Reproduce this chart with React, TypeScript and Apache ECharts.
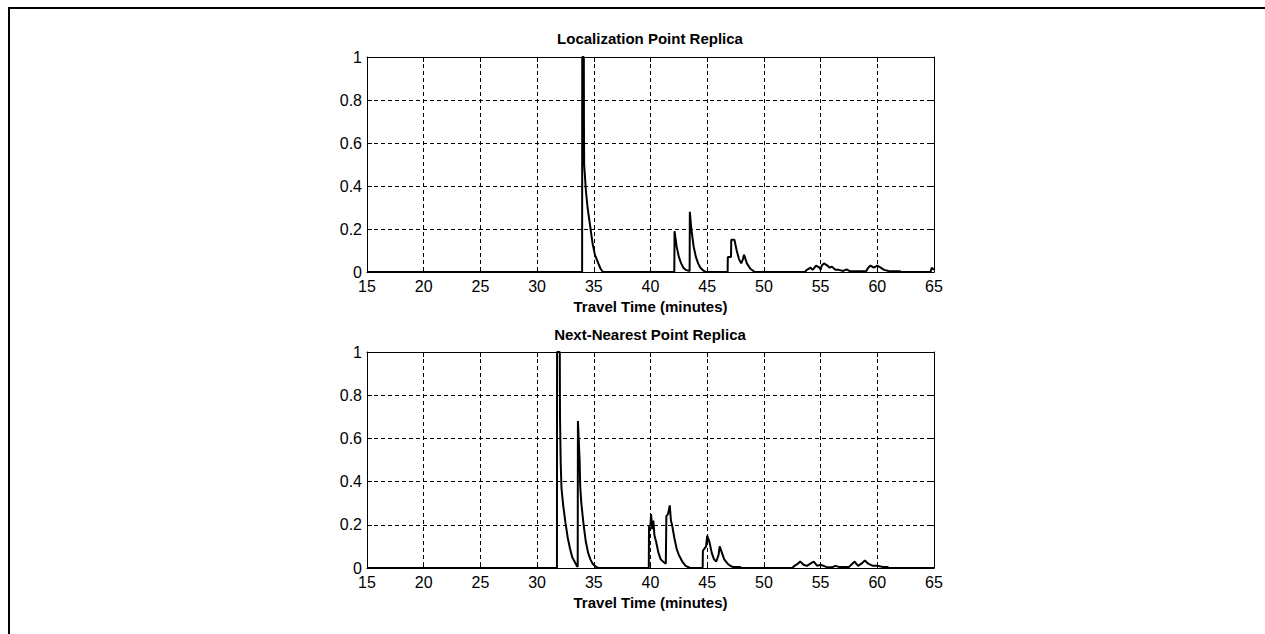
import React, { useEffect, useRef } from "react";
import * as echarts from "echarts";

const xTicks = [15, 20, 25, 30, 35, 40, 45, 50, 55, 60, 65];
const yTicks = [0, 0.2, 0.4, 0.6, 0.8, 1];
const plotTitles = ["Localization Point Replica", "Next-Nearest Point Replica"];
const xAxisTitle = "Travel Time (minutes)";

// Localization Point Replica
const locTime = [
  15, 33.97, 33.98, 34.12, 34.13, 34.15, 34.3, 34.45, 34.66, 34.9, 35.1, 35.4, 35.6, 35.8,
  42.1, 42.12, 42.3, 42.5, 42.7, 42.9, 43.1, 43.45, 43.47, 43.6, 43.8, 44.0, 44.2, 44.4, 44.7, 44.9,
  46.8, 46.82, 47.1, 47.12, 47.4, 47.6, 47.8, 48.0, 48.15, 48.25, 48.5, 48.8, 49.2,
  53.6, 53.8, 54.1, 54.3, 54.6, 54.9, 55.0, 55.1, 55.3, 55.6, 55.8, 56.0, 56.3, 56.6, 57.0, 57.3, 57.6,
  59.0, 59.2, 59.4, 59.7, 60.0, 60.3, 60.6, 61.0, 62.0, 62.1, 64.7, 64.8, 65,
];
const locValue = [
  0, 0, 1.0, 1.0, 0.7, 0.5, 0.38, 0.3, 0.22, 0.13, 0.08, 0.04, 0.015, 0,
  0, 0.19, 0.12, 0.07, 0.04, 0.02, 0.01, 0.005, 0.28, 0.2, 0.12, 0.07, 0.04, 0.02, 0.005, 0,
  0, 0.07, 0.07, 0.15, 0.15, 0.1, 0.06, 0.04, 0.06, 0.08, 0.04, 0.015, 0,
  0, 0.01, 0.02, 0.01, 0.03, 0.02, 0.01, 0.03, 0.04, 0.03, 0.02, 0.025, 0.01, 0.01, 0.005, 0.012, 0.003,
  0.003, 0.02, 0.03, 0.02, 0.03, 0.02, 0.01, 0.005, 0.003, 0, 0, 0.02, 0.01,
];

// Next-Nearest Point Replica
const nnTime = [
  15, 31.75, 31.76, 32.0, 32.02, 32.08, 32.15, 32.3, 32.5, 32.7, 32.9, 33.1, 33.3, 33.5, 33.58,
  33.6, 33.75, 33.8, 33.9, 34.1, 34.3, 34.5, 34.7, 34.9, 35.2, 35.4,
  39.85, 39.87, 40.0, 40.05, 40.15, 40.25, 40.35, 40.5, 40.7, 40.9, 41.1, 41.35, 41.4, 41.55, 41.7, 41.8, 41.9, 42.1, 42.3, 42.5, 42.8, 43.1, 43.5,
  44.6, 44.62, 44.9, 45.0, 45.2, 45.4, 45.6, 45.8, 46.0, 46.1, 46.3, 46.5, 46.8, 47.1, 47.3, 47.9, 48.0,
  52.5, 52.7, 53.0, 53.2, 53.5, 53.8, 54.1, 54.4, 54.7, 55.0, 55.5, 56.0, 56.3, 56.6, 57.5, 57.8, 58.0, 58.3, 58.6, 58.9, 59.2, 59.6, 60.0, 60.5, 60.9, 61.0, 65,
];
const nnValue = [
  0, 0, 1.0, 1.0, 0.7, 0.49, 0.37, 0.29, 0.21, 0.14, 0.09, 0.05, 0.03, 0.01, 0.005,
  0.68, 0.5, 0.38, 0.3, 0.2, 0.12, 0.07, 0.04, 0.02, 0.005, 0,
  0, 0.19, 0.2, 0.25, 0.18, 0.22, 0.15, 0.12, 0.07, 0.04, 0.03, 0.02, 0.24, 0.25, 0.29, 0.22, 0.2, 0.14, 0.09, 0.06, 0.03, 0.01, 0,
  0, 0.08, 0.1, 0.15, 0.12, 0.07, 0.04, 0.03, 0.06, 0.1, 0.07, 0.04, 0.02, 0.008, 0.005, 0.005, 0,
  0, 0.01, 0.02, 0.03, 0.015, 0.01, 0.02, 0.03, 0.01, 0.015, 0.005, 0.003, 0.01, 0.005, 0.005, 0.02, 0.03, 0.01, 0.02, 0.035, 0.02, 0.01, 0.01, 0.005, 0.005, 0, 0,
];

const seriesTimes = [locTime, nnTime];
const seriesValues = [locValue, nnValue];

const LABEL_FONT = "'Liberation Sans', Arial, sans-serif";
const TITLE_FONT = "'Liberation Sans Narrow', 'Arial Narrow', 'Liberation Sans', Arial, sans-serif";

export default function App() {
  const ref = useRef<HTMLDivElement>(null);

  useEffect(() => {
    const chart = echarts.init(ref.current!, null, { renderer: "svg" });
    const grids = [
      { left: 367, top: 57, width: 567, height: 215 },
      { left: 367, top: 352, width: 567, height: 216 },
    ];
    const dash = [4, 3];
    const xAxes: any[] = [];
    const yAxes: any[] = [];
    const series: any[] = [];
    grids.forEach((_, gi) => {
      xAxes.push({
        gridIndex: gi,
        type: "value",
        position: "bottom",
        min: xTicks[0],
        max: xTicks[xTicks.length - 1],
        interval: xTicks[1] - xTicks[0],
        axisLine: { show: true, onZero: false, lineStyle: { color: "#000", width: 1 } },
        axisTick: { show: true, inside: true, length: 5, lineStyle: { color: "#000" } },
        axisLabel: { show: true, color: "#000", fontSize: 16, fontFamily: LABEL_FONT, margin: 6, hideOverlap: false },
        splitLine: { show: true, lineStyle: { color: "#000", type: dash, width: 1 } },
        name: xAxisTitle,
        nameLocation: "middle",
        nameGap: 27,
        nameTextStyle: { color: "#000", fontSize: 15, fontWeight: "bold", fontFamily: TITLE_FONT },
      });
      xAxes.push({
        gridIndex: gi,
        type: "value",
        position: "top",
        min: xTicks[0],
        max: xTicks[xTicks.length - 1],
        interval: xTicks[1] - xTicks[0],
        axisLine: { show: true, onZero: false, lineStyle: { color: "#000", width: 1 } },
        axisTick: { show: true, inside: true, length: 5, lineStyle: { color: "#000" } },
        axisLabel: { show: false },
        splitLine: { show: false },
      });
      yAxes.push({
        gridIndex: gi,
        type: "value",
        position: "left",
        min: yTicks[0],
        max: yTicks[yTicks.length - 1],
        interval: yTicks[1] - yTicks[0],
        axisLine: { show: true, onZero: false, lineStyle: { color: "#000", width: 1 } },
        axisTick: { show: true, inside: true, length: 5, lineStyle: { color: "#000" } },
        axisLabel: { show: true, color: "#000", fontSize: 16, fontFamily: LABEL_FONT, margin: 5, hideOverlap: false },
        splitLine: { show: true, lineStyle: { color: "#000", type: dash, width: 1 } },
      });
      yAxes.push({
        gridIndex: gi,
        type: "value",
        position: "right",
        min: yTicks[0],
        max: yTicks[yTicks.length - 1],
        interval: yTicks[1] - yTicks[0],
        axisLine: { show: true, onZero: false, lineStyle: { color: "#000", width: 1 } },
        axisTick: { show: true, inside: true, length: 5, lineStyle: { color: "#000" } },
        axisLabel: { show: false },
        splitLine: { show: false },
      });
      series.push({
        type: "line",
        xAxisIndex: gi * 2,
        yAxisIndex: gi * 2,
        data: seriesTimes[gi].map((t, i) => [t, seriesValues[gi][i]]),
        showSymbol: false,
        symbol: "none",
        lineStyle: { color: "#000", width: 2 },
        clip: true,
      });
    });

    chart.setOption({
      animation: false,
      backgroundColor: "#fff",
      grid: grids,
      xAxis: xAxes,
      yAxis: yAxes,
      series,
      graphic: [
        { type: "line", shape: { x1: 8, y1: 8, x2: 1265, y2: 8 }, style: { stroke: "#000", lineWidth: 2 } },
        { type: "line", shape: { x1: 9, y1: 7, x2: 9, y2: 634 }, style: { stroke: "#000", lineWidth: 2 } },
        {
          type: "text",
          x: 650,
          y: 38,
          style: { text: plotTitles[0], fill: "#000", font: `bold 15px ${TITLE_FONT}`, textAlign: "center", textVerticalAlign: "middle" },
        },
        {
          type: "text",
          x: 650,
          y: 334,
          style: { text: plotTitles[1], fill: "#000", font: `bold 15px ${TITLE_FONT}`, textAlign: "center", textVerticalAlign: "middle" },
        },
      ],
    });
    return () => chart.dispose();
  }, []);

  return <div ref={ref} style={{ position: "absolute", left: 0, top: 0, width: 1265, height: 634 }} />;
}
